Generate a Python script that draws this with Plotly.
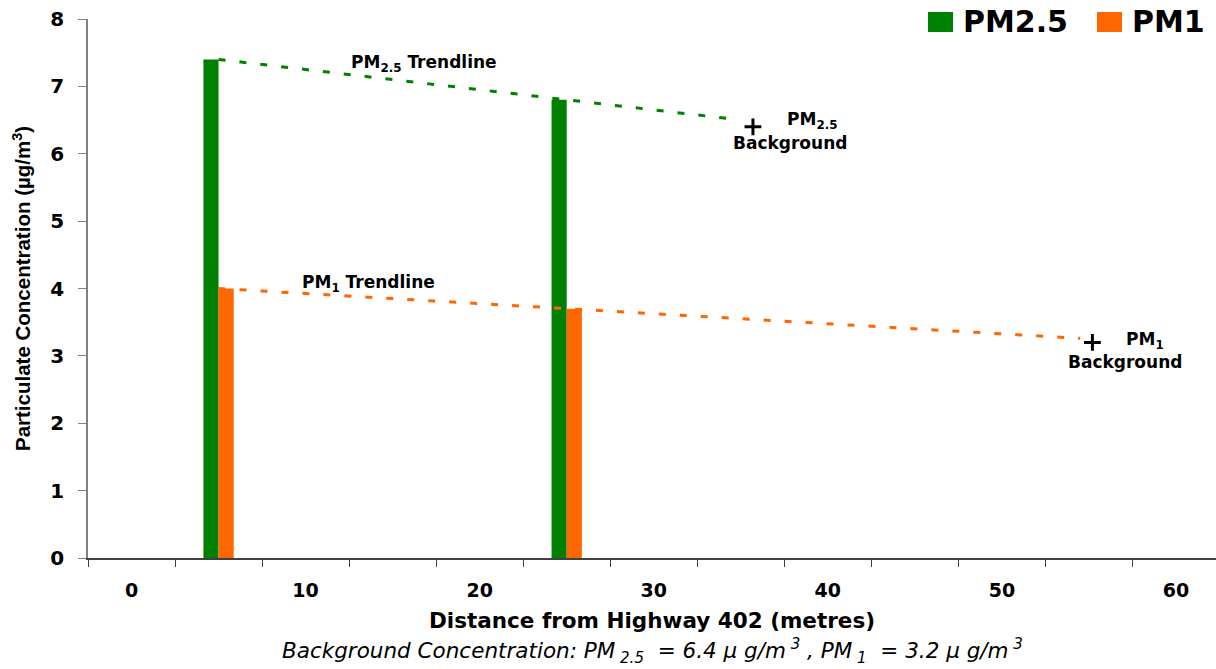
import plotly.graph_objects as go

# Measured concentrations at two distances from the highway
distance_m = [5, 25]
pm25_conc = [7.4, 6.8]
pm1_conc = [4.0, 3.7]

# Linear trendlines through the measured points
pm25_trend_x = [5, 34.7]
pm25_trend_y = [7.4, 6.51]
pm1_trend_x = [5, 54.5]
pm1_trend_y = [4.0, 3.26]

# Background concentrations (marked with +)
pm25_bg_x, pm25_bg_y = 35.7, 6.4
pm1_bg_x, pm1_bg_y = 55.2, 3.2

x_tick_vals = [0, 10, 20, 30, 40, 50, 60]
y_tick_vals = [0, 1, 2, 3, 4, 5, 6, 7, 8]

GREEN = "#008000"
ORANGE = "#FF6600"
BOLD_FONT = "DejaVu Sans"
W, H = 1216, 669
L, R, T, B = 88, 0, 19, 111


def px_to_paper(px, py):
    return (px - L) / (W - L - R), (H - B - py) / (H - B - T)


fig = go.Figure()

bar_w = 0.87
fig.add_trace(go.Bar(x=distance_m, y=pm25_conc, width=bar_w, offset=-bar_w,
                     marker=dict(color=GREEN, line=dict(width=0)), name="PM2.5",
                     showlegend=False))
fig.add_trace(go.Bar(x=distance_m, y=pm1_conc, width=bar_w, offset=0,
                     marker=dict(color=ORANGE, line=dict(width=0)), name="PM1",
                     showlegend=False))

fig.add_trace(go.Scatter(x=pm25_trend_x, y=pm25_trend_y, mode="lines",
                         line=dict(color=GREEN, width=3, dash="7px,14px"),
                         showlegend=False, hoverinfo="skip"))
fig.add_trace(go.Scatter(x=pm1_trend_x, y=pm1_trend_y, mode="lines",
                         line=dict(color=ORANGE, width=3, dash="7px,14px"),
                         showlegend=False, hoverinfo="skip"))

fig.add_trace(go.Scatter(x=[pm25_bg_x, pm1_bg_x], y=[pm25_bg_y, pm1_bg_y],
                         mode="markers",
                         marker=dict(symbol="cross-thin", size=12,
                                     line=dict(color="black", width=3)),
                         showlegend=False, hoverinfo="skip"))

ann_font = dict(family=BOLD_FONT, size=17, color="black")
annotations = [
    dict(x=16.8, y=7.34, text="<b>PM<sub>2.5</sub> Trendline</b>"),
    dict(x=13.6, y=4.08, text="<b>PM<sub>1</sub> Trendline</b>"),
    dict(x=39.1, y=6.50, text="<b>PM<sub>2.5</sub></b>"),
    dict(x=37.8, y=6.16, text="<b>Background</b>"),
    dict(x=58.2, y=3.23, text="<b>PM<sub>1</sub></b>"),
    dict(x=57.1, y=2.91, text="<b>Background</b>"),
]
for a in annotations:
    fig.add_annotation(xref="x", yref="y", showarrow=False, font=ann_font,
                       xanchor="center", yanchor="middle", **a)

# Footnote
fx, fy = px_to_paper(652, 651)
fig.add_annotation(
    xref="paper", yref="paper", x=fx, y=fy, showarrow=False,
    xanchor="center", yanchor="middle",
    text="<i>Background Concentration: PM<sub> 2.5</sub>  = 6.4 \u00b5 g/m<sup> 3</sup> , "
         "PM<sub> 1</sub>  = 3.2 \u00b5 g/m<sup> 3</sup></i>",
    font=dict(family=BOLD_FONT, size=21.5, color="black"))

# Legend drawn as coloured squares with labels
legend_items = [(928, 953, GREEN, 961, "PM2.5"), (1097, 1122, ORANGE, 1130, "PM1")]
for x0, x1, col, tx, label in legend_items:
    p0 = px_to_paper(x0, 32)
    p1 = px_to_paper(x1, 12)
    fig.add_shape(type="rect", xref="paper", yref="paper", x0=p0[0], x1=p1[0],
                  y0=p0[1], y1=p1[1], fillcolor=col, line=dict(width=0))
    lp = px_to_paper(tx, 22)
    fig.add_annotation(xref="paper", yref="paper", x=lp[0], y=lp[1], showarrow=False,
                       xanchor="left", yanchor="middle", text="<b>%s</b>" % label,
                       font=dict(family=BOLD_FONT, size=30, color="black"))

fig.update_layout(
    width=W, height=H,
    margin=dict(l=L, r=R, t=T, b=B, pad=0),
    plot_bgcolor="white", paper_bgcolor="white",
    barmode="overlay",
    showlegend=False,
)

fig.update_xaxes(
    range=[-2.5, 62.3], tickvals=x_tick_vals, ticks="",
    ticktext=["<b>%d</b>" % v for v in x_tick_vals],
    tickfont=dict(family=BOLD_FONT, size=19, color="black"),
    ticklabelstandoff=14,
    minor=dict(tick0=-2.5, dtick=5, ticks="outside", ticklen=7, tickwidth=1,
               tickcolor="#404040", showgrid=False),
    showline=True, linecolor="#404040", linewidth=1.5,
    showgrid=False, zeroline=False,
    title=dict(text="<b>Distance from Highway 402 (metres)</b>",
               font=dict(family=BOLD_FONT, size=21.5, color="black"), standoff=13),
)
fig.update_yaxes(
    range=[0, 8], tickvals=y_tick_vals,
    ticktext=["<b>%d</b>" % v for v in y_tick_vals],
    tickfont=dict(family=BOLD_FONT, size=20, color="black"),
    ticks="outside", ticklen=8, tickcolor="#808080", tickwidth=1,
    ticklabelstandoff=10,
    showline=True, linecolor="#808080", linewidth=1.5,
    showgrid=False, zeroline=False,
    title=dict(text="<b>Particulate Concentration (\u00b5g/m<sup>3</sup>)</b>",
               font=dict(family="Liberation Sans", size=20.5, color="black"), standoff=14),
)

fig.write_html("out.html")
